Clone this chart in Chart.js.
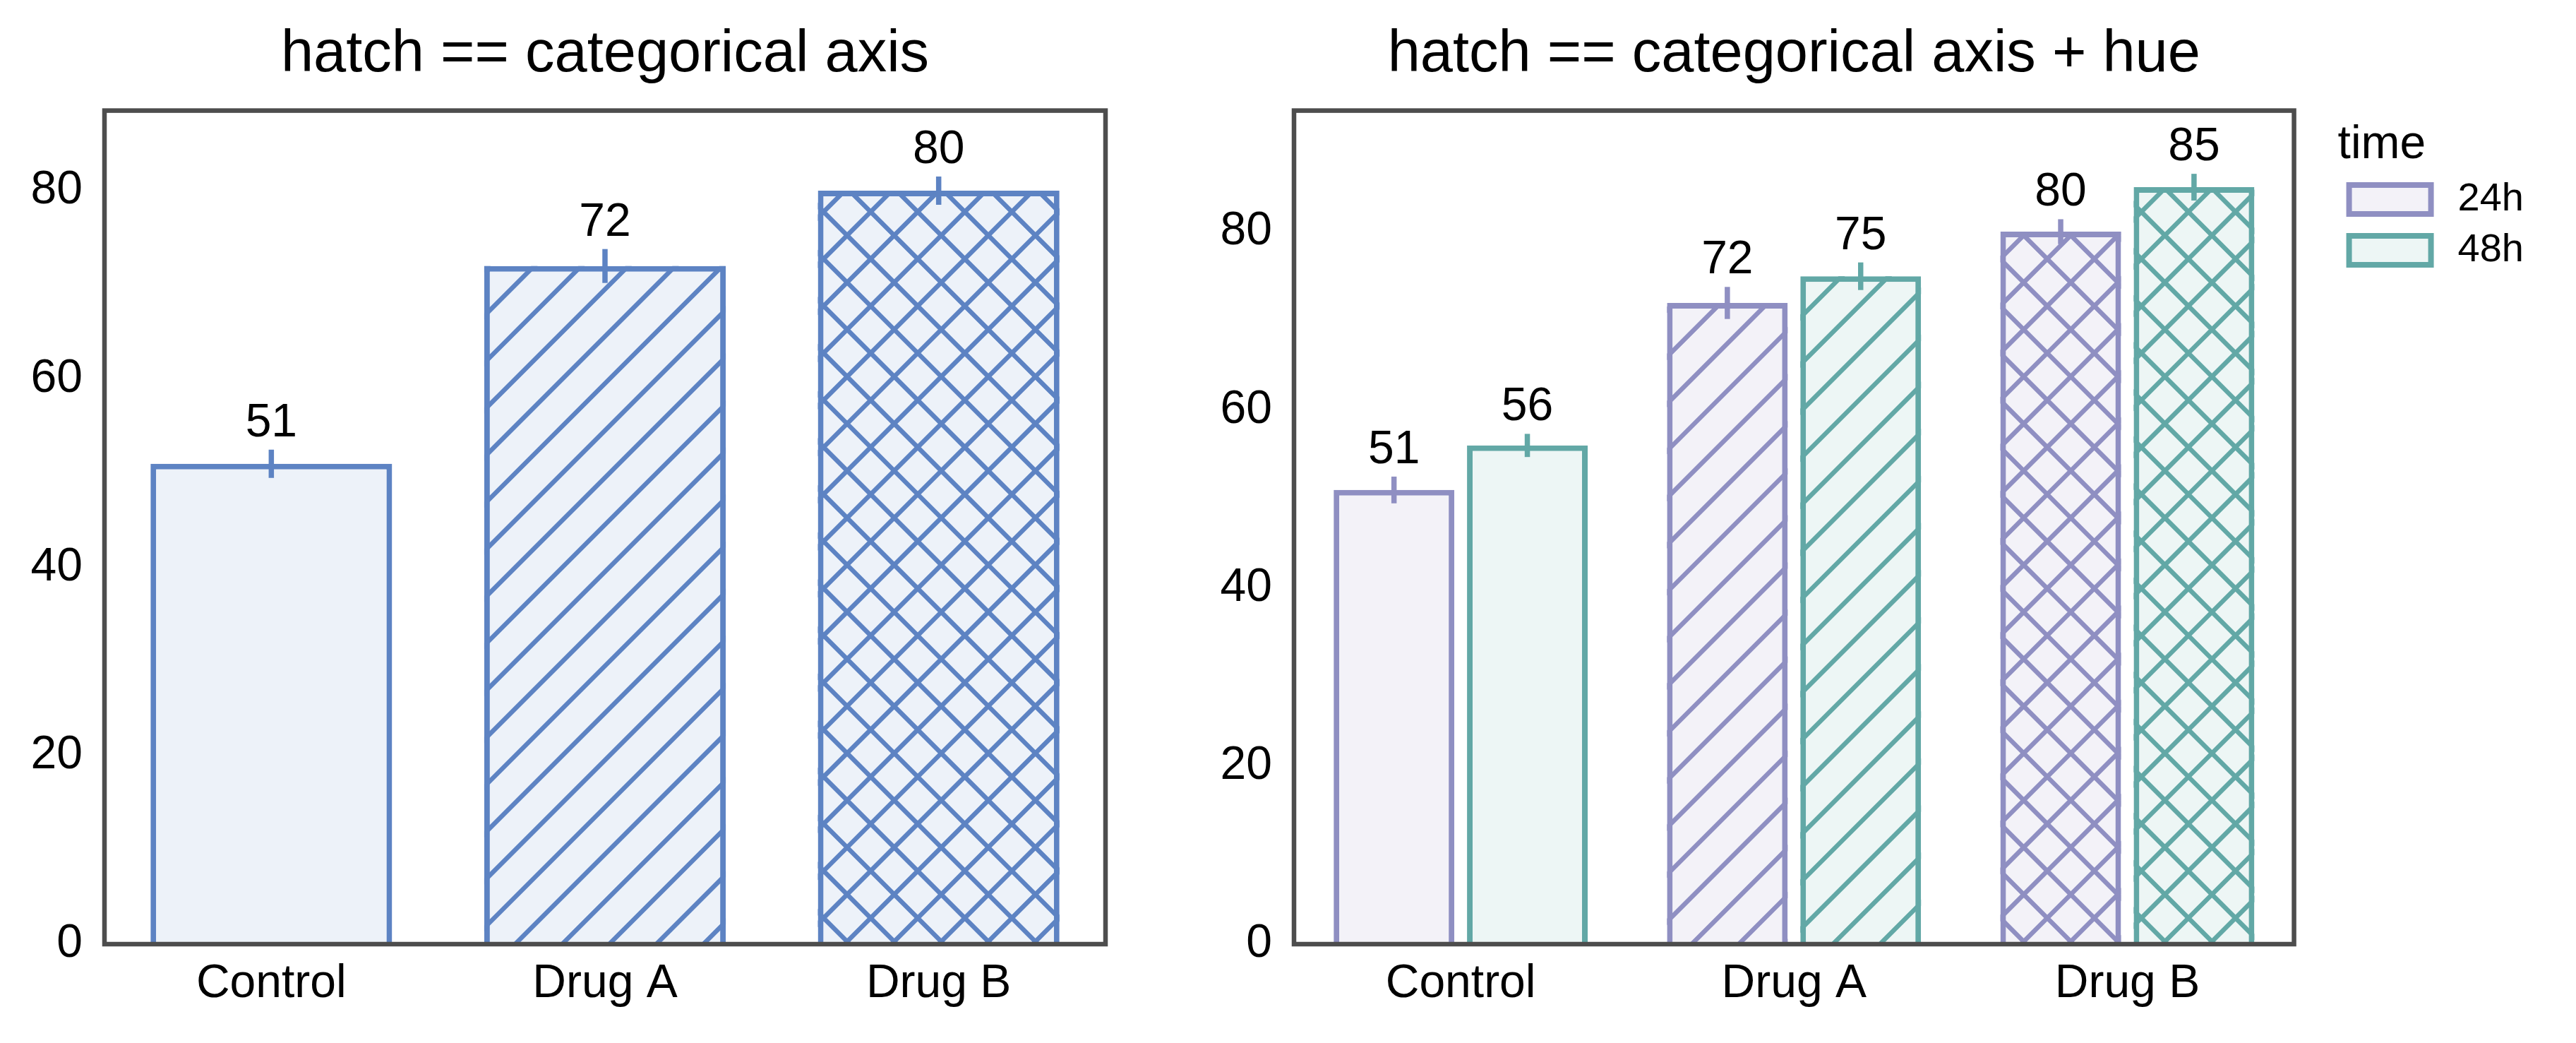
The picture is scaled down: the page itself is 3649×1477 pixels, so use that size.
<!DOCTYPE html>
<html>
<head>
<meta charset="utf-8">
<script src="https://cdn.jsdelivr.net/npm/chart.js@4"></script>
<style>
  html, body { margin: 0; padding: 0; background: #fff; overflow: hidden; }
  canvas { position: absolute; top: 0; }
  #leftChart { left: 0px; }
  #rightChart { left: 1714px; }
</style>
</head>
<body>
<canvas id="leftChart" width="1714" height="1477"></canvas>
<canvas id="rightChart" width="1935" height="1477"></canvas>
<script>
// data
const categories = ['Control', 'Drug A', 'Drug B'];
const hatches = ['', '/', 'x'];
const yTicks = [0, 20, 40, 60, 80];

const leftValues = [51, 72, 80];
const leftErrors = [1.5, 1.8, 1.5];

const hueLabels = ['24h', '48h'];
const values24h = [51, 72, 80];
const errors24h = [1.5, 1.8, 1.4];
const values48h = [56, 75, 85];
const errors48h = [1.3, 1.55, 1.5];

// colours
const blueEdge = '#5d83c3', blueFill = '#edf2f9';
const purpleEdge = '#8f8fc2', purpleFill = '#f3f2f8';
const tealEdge = '#62a8a6', tealFill = '#edf6f5';

const FONT = '"Liberation Sans", Arial, Helvetica, sans-serif';
Chart.defaults.font.family = FONT;
Chart.defaults.color = '#000';

const HATCH_STEP = 200 / 3;   // horizontal distance between hatch lines

// hatch lines over each bar, lattice anchored to the page (not the bar)
const hatchPlugin = {
    id: 'hatch',
    afterDatasetsDraw(chart, args, opts) {
        const ctx = chart.ctx;
        const off = opts.offsetX || 0;
        const P = HATCH_STEP;
        chart.data.datasets.forEach((ds, i) => {
            chart.getDatasetMeta(i).data.forEach((bar, j) => {
                const kind = ds.hatch[j];
                if (!kind) return;
                const p = bar.getProps(['x', 'y', 'base', 'width'], true);
                const left = p.x - p.width / 2, right = p.x + p.width / 2;
                const top = Math.min(p.y, p.base), bottom = Math.max(p.y, p.base);
                ctx.save();
                ctx.beginPath();
                ctx.rect(left, top, right - left, bottom - top);
                ctx.clip();
                ctx.strokeStyle = ds.borderColor;
                ctx.lineWidth = 6.5;
                ctx.beginPath();
                const t = top - 10, b = bottom + 10;
                // "/" : gx + y = c
                let k0 = Math.floor((left + off + t) / P) - 1;
                let k1 = Math.ceil((right + off + b) / P) + 1;
                for (let k = k0; k <= k1; k++) {
                    const c = k * P;
                    ctx.moveTo(c - off - t, t);
                    ctx.lineTo(c - off - b, b);
                }
                if (kind === 'x') {
                    // "\" : gx - y = c
                    k0 = Math.floor((left + off - b) / P) - 1;
                    k1 = Math.ceil((right + off - t) / P) + 1;
                    for (let k = k0; k <= k1; k++) {
                        const c = k * P;
                        ctx.moveTo(c - off + t, t);
                        ctx.lineTo(c - off + b, b);
                    }
                }
                ctx.stroke();
                ctx.restore();
            });
        });
    }
};

const framePlugin = {
    id: 'frame',
    afterDatasetsDraw(chart) {
        const { ctx, chartArea: a } = chart;
        ctx.save();
        ctx.strokeStyle = '#4d4d4d';
        ctx.lineWidth = 6.5;
        ctx.strokeRect(a.left, a.top, a.right - a.left, a.bottom - a.top);
        ctx.restore();
    }
};

// error bars + value labels on top of each bar
const errorBarPlugin = {
    id: 'errorBars',
    afterDatasetsDraw(chart) {
        const ctx = chart.ctx;
        const y = chart.scales.y;
        chart.data.datasets.forEach((ds, i) => {
            const meta = chart.getDatasetMeta(i);
            meta.data.forEach((bar, j) => {
                const v = ds.data[j];
                const err = ds.errors[j];
                const top = y.getPixelForValue(v + err);
                const bottom = y.getPixelForValue(v - err);
                ctx.save();
                ctx.strokeStyle = ds.borderColor;
                ctx.lineWidth = 7.5;
                ctx.beginPath();
                ctx.moveTo(bar.x, top);
                ctx.lineTo(bar.x, bottom);
                ctx.stroke();
                ctx.fillStyle = '#000';
                ctx.font = '66px ' + FONT;
                ctx.textAlign = 'center';
                ctx.textBaseline = 'alphabetic';
                ctx.fillText(String(v), bar.x, top - 19);
                ctx.restore();
            });
        });
    }
};

function baseScales(yMax, yWidth) {
    return {
        x: {
            grid: { display: false, drawTicks: false },
            border: { display: false },
            ticks: { font: { size: 66 }, padding: 17, color: '#000' },
            afterFit(s) { s.height = 140; }
        },
        y: {
            min: 0,
            max: yMax,
            grid: { display: false, drawTicks: false },
            border: { display: false },
            ticks: { font: { size: 66 }, padding: 31, color: '#000', includeBounds: false },
            afterBuildTicks(s) { s.ticks = yTicks.map(v => ({ value: v })); },
            afterFit(s) { s.width = yWidth; }
        }
    };
}

function titleOpts(text) {
    return {
        display: true,
        text: text,
        fullSize: false,
        color: '#000',
        font: { size: 83, weight: 'normal', lineHeight: 1.2 },
        padding: { top: 28, bottom: 29 }
    };
}

function setupLeft() {
    new Chart(document.getElementById('leftChart'), {
        type: 'bar',
        data: {
            labels: categories,
            datasets: [{
                data: leftValues,
                errors: leftErrors,
                hatch: hatches,
                backgroundColor: blueFill,
                borderColor: blueEdge,
                borderWidth: 8,
                borderSkipped: 'start',
                categoryPercentage: 0.8,
                barPercentage: 0.905
            }]
        },
        options: {
            responsive: false,
            animation: false,
            devicePixelRatio: 1,
            layout: { padding: { left: 0, right: 148, top: 0, bottom: 0 } },
            scales: baseScales(88.5, 148),
            plugins: {
                legend: { display: false },
                tooltip: { enabled: false },
                title: titleOpts('hatch == categorical axis'),
                hatch: { offsetX: 0 }
            }
        },
        plugins: [hatchPlugin, framePlugin, errorBarPlugin]
    });
}

function setupRight() {
    const hueEdges = [purpleEdge, tealEdge];
    const hueFills = [purpleFill, tealFill];
    const hueValues = [values24h, values48h];
    const hueErrors = [errors24h, errors48h];

    const datasets = hueLabels.map((label, i) => ({
        label: label,
        data: hueValues[i],
        errors: hueErrors[i],
        hatch: hatches,
        backgroundColor: hueFills[i],
        borderColor: hueEdges[i],
        borderWidth: 8,
        borderSkipped: 'start',
        categoryPercentage: 0.8,
        barPercentage: 0.905,
        yAxisID: 'y'
    }));

    const scales = baseScales(93.6, 119);
    // empty axis, only keeps a gap between the frame and the legend
    scales.y2 = {
        position: 'right',
        display: true,
        grid: { display: false, drawTicks: false },
        border: { display: false },
        ticks: { display: false },
        afterFit(s) { s.width = 62; }
    };

    new Chart(document.getElementById('rightChart'), {
        type: 'bar',
        data: { labels: categories, datasets: datasets },
        options: {
            responsive: false,
            animation: false,
            devicePixelRatio: 1,
            layout: { padding: { left: 0, right: 74, top: 0, bottom: 0 } },
            scales: scales,
            plugins: {
                tooltip: { enabled: false },
                title: titleOpts('hatch == categorical axis + hue'),
                hatch: { offsetX: 1714 },
                legend: {
                    display: true,
                    position: 'right',
                    align: 'start',
                    fullSize: false,
                    title: {
                        display: true,
                        text: 'time',
                        position: 'start',
                        color: '#000',
                        font: { size: 66, lineHeight: 1 },
                        padding: { top: 16, bottom: 0 }
                    },
                    labels: {
                        boxWidth: 116,
                        boxHeight: 41,
                        padding: 16,
                        color: '#000',
                        textAlign: 'right',
                        font: { size: 56 },
                        generateLabels() {
                            return hueLabels.map((label, i) => ({
                                text: label,
                                fillStyle: hueFills[i],
                                strokeStyle: hueEdges[i],
                                lineWidth: 8,
                                hidden: false,
                                datasetIndex: i
                            }));
                        }
                    }
                }
            }
        },
        plugins: [hatchPlugin, framePlugin, errorBarPlugin]
    });
}

setupLeft();
setupRight();
</script>
</body>
</html>
